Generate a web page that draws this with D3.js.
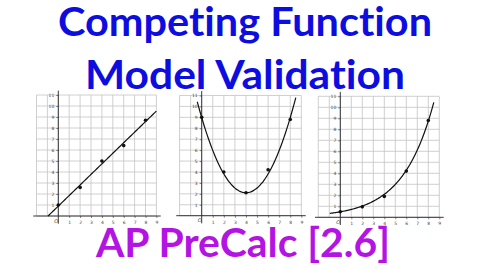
<!DOCTYPE html>
<html>
<head>
<meta charset="utf-8">
<script src="https://cdn.jsdelivr.net/npm/d3@7"></script>
<style>
  body { margin: 0; background: #fff; }
  svg { display: block; }
  .title { font-variant-ligatures: none; font-feature-settings: "liga" 0; }
</style>
</head>
<body>
<div id="chart"></div>
<script>
// data
var pointX = [0, 2, 4, 6, 8];
var linearY = [1, 2.6, 5, 6.4, 8.7];
var quadY = [9, 4, 2.1, 4.2, 8.8];
var expY = [0.5, 0.95, 1.9, 4.2, 8.8];

var xTicks = [1, 2, 3, 4, 5, 6, 7, 8, 9];
var yTicks = [1, 2, 3, 4, 5, 6, 7, 8, 9, 10, 11];

// fitted models (coefficients estimated from the curves)
var linearModel = [0.96, 0.9];      // slope, intercept
var quadModel = [0.43, 4, 2.1];     // a, h, k
var expModel = [0.5, 1.43];         // a, b

var titleLines = ["Competing Function", "Model Validation"];
var footer = "AP PreCalc [2.6]";

var svgWidth = 480;
var svgHeight = 270;

var svg = d3.select("#chart")
  .append("svg")
  .attr("width", svgWidth)
  .attr("height", svgHeight);

// one panel per model
var panels = [
  { ox: 58.3, oy: 216, ux: 10.9, uy: 11, ys: linearY,
    f: x => linearModel[0] * x + linearModel[1], from: -0.94, to: 9 },
  { ox: 201.7, oy: 215.7, ux: 11.07, uy: 10.93, ys: quadY,
    f: x => quadModel[0] * (x - quadModel[1]) ** 2 + quadModel[2], from: -0.4, to: 8.5 },
  { ox: 340.3, oy: 217.3, ux: 11, uy: 11, ys: expY,
    f: x => expModel[0] * Math.pow(expModel[1], x), from: -0.95, to: 8.5 }
];

panels.forEach(function(p) {
  var x = d3.scaleLinear().domain([-2, 9]).range([p.ox - 2 * p.ux, p.ox + 9 * p.ux]);
  var y = d3.scaleLinear().domain([0, 11]).range([p.oy, p.oy - 11 * p.uy]);
  var g = svg.append("g");

  // grid
  g.selectAll(".vgrid")
    .data(d3.range(-2, 10))
    .enter()
    .append("line")
    .attr("x1", d => x(d)).attr("x2", d => x(d))
    .attr("y1", y(0)).attr("y2", y(11))
    .attr("stroke", "#c4c4c4")
    .attr("stroke-width", 0.8);
  g.selectAll(".hgrid")
    .data(d3.range(0, 12))
    .enter()
    .append("line")
    .attr("x1", x(-2)).attr("x2", x(9))
    .attr("y1", d => y(d)).attr("y2", d => y(d))
    .attr("stroke", "#c4c4c4")
    .attr("stroke-width", 0.8);

  // axes
  var xAxis = d3.axisBottom(x).tickValues(xTicks).tickSize(2).tickPadding(3);
  var yAxis = d3.axisLeft(y).tickValues(yTicks).tickSize(2).tickPadding(2);
  var xg = g.append("g").attr("transform", `translate(0, ${y(0)})`).call(xAxis);
  var yg = g.append("g").attr("transform", `translate(${x(0)}, 0)`).call(yAxis);
  [xg, yg].forEach(function(a) {
    a.select(".domain").remove();
    a.selectAll("line").attr("stroke", "#333").attr("stroke-width", 0.6);
    a.selectAll("text")
      .attr("font-family", "DejaVu Sans")
      .attr("font-size", 4.5)
      .attr("fill", "#444");
  });
  g.append("line")
    .attr("x1", x(-2.3)).attr("x2", x(9.4))
    .attr("y1", y(0)).attr("y2", y(0))
    .attr("stroke", "#222").attr("stroke-width", 0.9);
  g.append("line")
    .attr("x1", x(0)).attr("x2", x(0))
    .attr("y1", y(-0.7)).attr("y2", y(11.4))
    .attr("stroke", "#222").attr("stroke-width", 0.9);
  g.append("text")
    .attr("x", x(0) - 4).attr("y", y(0) + 6.5)
    .attr("font-family", "DejaVu Sans")
    .attr("font-size", 5)
    .attr("font-style", "italic")
    .attr("fill", "#444")
    .text("O");

  // model curve
  var xs = d3.range(0, 101).map(i => p.from + (p.to - p.from) * i / 100);
  var line = d3.line().x(d => x(d)).y(d => y(p.f(d))).curve(d3.curveMonotoneX);
  g.append("path")
    .datum(xs)
    .attr("d", line)
    .attr("fill", "none")
    .attr("stroke", "#111")
    .attr("stroke-width", 1.2);

  // data points
  g.selectAll(".pt")
    .data(pointX)
    .enter()
    .append("circle")
    .attr("cx", (d) => x(d))
    .attr("cy", (d, i) => y(p.ys[i]))
    .attr("r", 1.8)
    .attr("fill", "#111");
});

// titles
var titleSpecs = [
  { text: titleLines[0], x: 58, y: 36, w: 374, fill: "#0d0de0" },
  { text: titleLines[1], x: 85, y: 89, w: 320, fill: "#0d0de0" },
  { text: footer, x: 96, y: 257, w: 294, fill: "#b314e3" }
];
svg.selectAll(".title")
  .data(titleSpecs)
  .enter()
  .append("text")
  .attr("class", "title")
  .attr("x", d => d.x)
  .attr("y", d => d.y)
  .attr("textLength", d => d.w)
  .attr("lengthAdjust", "spacingAndGlyphs")
  .attr("font-family", "Lato, 'Open Sans', sans-serif")
  .attr("font-weight", "bold")
  .attr("font-size", 40)
  .attr("fill", d => d.fill)
  .text(d => d.text);
</script>
</body>
</html>
